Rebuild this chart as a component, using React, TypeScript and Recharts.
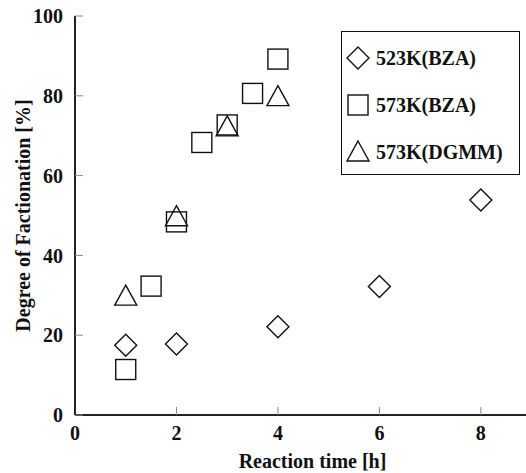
import React from 'react';
import {
    ScatterChart, Scatter, XAxis, YAxis
} from 'recharts';

// reaction time [h] / degree of factionation [%]
const bza523Time = [1, 2, 4, 6, 8];
const bza523Deg = [17.5, 17.8, 22.1, 32.2, 53.9];

const bza573Time = [1, 1.5, 2, 2.5, 3, 3.5, 4];
const bza573Deg = [11.4, 32.3, 48.4, 68.3, 72.7, 80.6, 89.2];

const dgmm573Time = [1, 2, 3, 4];
const dgmm573Deg = [29.8, 49.7, 72.2, 79.8];

const seriesNames = ['523K(BZA)', '573K(BZA)', '573K(DGMM)'];
const xTicks = [0, 2, 4, 6, 8];
const yTicks = [0, 20, 40, 60, 80, 100];

const INK = '#111';
const FONT = '"Liberation Serif", "Times New Roman", serif';

const toPoints = (xs: number[], ys: number[]) => xs.map((x, i) => ({ x, y: ys[i] }));

const Diamond = ({ cx, cy }: any) => (
    <path d={`M${cx},${cy - 11} L${cx + 11},${cy} L${cx},${cy + 11} L${cx - 11},${cy} Z`}
        fill="none" stroke={INK} strokeWidth={1.4} />
);
const Square = ({ cx, cy }: any) => (
    <rect x={cx - 10} y={cy - 10} width={20} height={20} fill="none" stroke={INK} strokeWidth={1.4} />
);
const Triangle = ({ cx, cy }: any) => (
    <path d={`M${cx},${cy - 11} L${cx + 11},${cy + 9} L${cx - 11},${cy + 9} Z`}
        fill="none" stroke={INK} strokeWidth={1.4} />
);

const markers = [Diamond, Square, Triangle];

// legend box drawn over the plot (top right)
const LegendBox = () => (
    <div style={{
        position: 'absolute', left: 341, top: 31,
        boxSizing: 'border-box', width: 179, height: 144, border: `1.5px solid ${INK}`, background: '#fff',
        fontFamily: FONT, fontWeight: 'bold', fontSize: 20, color: INK
    }}>
        {seriesNames.map((name, i) => {
            const M = markers[i];
            return (
                <div key={name} style={{ position: 'absolute', left: 3, top: 12 + i * 47, height: 28, display: 'flex', alignItems: 'center' }}>
                    <svg width={26} height={26}><M cx={13} cy={13} /></svg>
                    <span style={{ marginLeft: 5 }}>{name}</span>
                </div>
            );
        })}
    </div>
);

export default function App() {
    const tickStyle = { fill: INK, fontSize: 20, fontWeight: 'bold', fontFamily: FONT };
    return (
        <div style={{ position: 'fixed', left: 0, top: 0, width: 526, height: 473, overflow: 'hidden', background: '#fff' }}>
            <ScatterChart width={526} height={473} margin={{ top: 16, right: 0, bottom: 0, left: 0 }}>
                <XAxis type="number" dataKey="x" domain={[0, 8.89]} ticks={xTicks} allowDataOverflow
                    height={58} tickSize={-8} tickMargin={19}
                    axisLine={{ stroke: '#222', strokeWidth: 2 }} tickLine={{ stroke: '#888', strokeWidth: 1 }}
                    tick={tickStyle}
                    label={{ value: 'Reaction time [h]', position: 'insideBottom', offset: 5, dx: 12, style: tickStyle }} />
                <XAxis xAxisId="top" orientation="top" type="number" dataKey="x" domain={[0, 8.89]} allowDataOverflow
                    height={0} tick={false} tickLine={false}
                    axisLine={{ stroke: '#222', strokeWidth: 2 }} />
                <YAxis type="number" dataKey="y" domain={[0, 100]} ticks={yTicks} allowDataOverflow
                    width={75} tickSize={-8} tickMargin={20}
                    axisLine={{ stroke: '#222', strokeWidth: 2 }} tickLine={{ stroke: '#888', strokeWidth: 1 }}
                    tick={tickStyle}
                    label={{ value: 'Degree of Factionation [%]', angle: -90, position: 'center', dx: -15, style: tickStyle }} />
                <Scatter name={seriesNames[0]} data={toPoints(bza523Time, bza523Deg)} shape={Diamond} isAnimationActive={false} />
                <Scatter name={seriesNames[1]} data={toPoints(bza573Time, bza573Deg)} shape={Square} isAnimationActive={false} />
                <Scatter name={seriesNames[2]} data={toPoints(dgmm573Time, dgmm573Deg)} shape={Triangle} isAnimationActive={false} />
            </ScatterChart>
            <LegendBox />
        </div>
    );
}
